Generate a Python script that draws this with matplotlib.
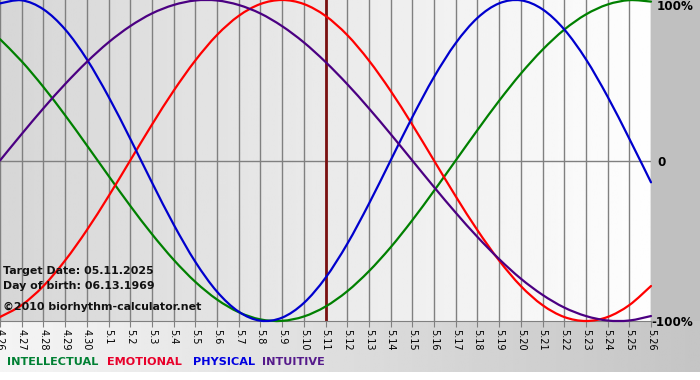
import numpy as np
import matplotlib
matplotlib.use("Agg")
import matplotlib.pyplot as plt
from matplotlib.patches import Rectangle, PathPatch
from matplotlib.path import Path

# day labels, 4.26 .. 5.26
days = ["4.26", "4.27", "4.28", "4.29", "4.30",
        "5.1", "5.2", "5.3", "5.4", "5.5", "5.6", "5.7", "5.8", "5.9", "5.10",
        "5.11", "5.12", "5.13", "5.14", "5.15", "5.16", "5.17", "5.18", "5.19",
        "5.20", "5.21", "5.22", "5.23", "5.24", "5.25", "5.26"]

# cycle values (fraction of 100%) read per day
physical = [0.979, 0.998, 0.942, 0.817, 0.631, 0.398, 0.136, -0.136, -0.398, -0.631,
            -0.817, -0.942, -0.998, -0.979, -0.888, -0.731, -0.520, -0.270, 0.000, 0.270,
            0.520, 0.731, 0.888, 0.979, 0.998, 0.942, 0.817, 0.631, 0.398, 0.136, -0.136]
emotional = [-0.975, -0.901, -0.782, -0.623, -0.434, -0.223, 0.000, 0.223, 0.434, 0.623,
             0.782, 0.901, 0.975, 1.000, 0.975, 0.901, 0.782, 0.623, 0.434, 0.223,
             0.000, -0.223, -0.434, -0.623, -0.782, -0.901, -0.975, -1.000, -0.975, -0.901, -0.782]
intellectual = [0.756, 0.618, 0.458, 0.282, 0.095, -0.095, -0.282, -0.458, -0.618, -0.756,
                -0.866, -0.945, -0.990, -0.999, -0.972, -0.910, -0.815, -0.690, -0.541, -0.372,
                -0.189, 0.000, 0.189, 0.372, 0.541, 0.690, 0.815, 0.910, 0.972, 0.999, 0.990]
intuitive = [0.000, 0.165, 0.325, 0.476, 0.614, 0.736, 0.837, 0.916, 0.969, 0.997,
             0.997, 0.969, 0.916, 0.837, 0.736, 0.614, 0.476, 0.325, 0.165, 0.000,
             -0.165, -0.325, -0.476, -0.614, -0.736, -0.837, -0.916, -0.969, -0.997, -0.997, -0.969]
target_day = "5.11"


def smooth_line(ax, xs, ys, color):
    # curved (bezier) line through the daily points
    p = np.column_stack([xs, ys]).astype(float)
    n = len(p)
    verts = [p[0]]
    codes = [Path.MOVETO]
    for i in range(n - 1):
        a = p[i - 1] if i > 0 else p[i]
        b = p[i + 2] if i + 2 < n else p[i + 1]
        c1 = p[i] + (p[i + 1] - a) / 6.0
        c2 = p[i + 1] - (b - p[i]) / 6.0
        verts += [c1, c2, p[i + 1]]
        codes += [Path.CURVE4] * 3
    patch = PathPatch(Path(verts, codes), fill=False, edgecolor=color, lw=1.6,
                      zorder=3, clip_on=False, capstyle="round", joinstyle="round")
    ax.add_patch(patch)


W, H = 700, 380
fig = plt.figure(figsize=(7, 3.8), dpi=100, facecolor="white")

# background (pixel coordinates)
bg = fig.add_axes([0, 0, 1, 1], zorder=0)
bg.set_xlim(0, W)
bg.set_ylim(H, 0)
bg.axis("off")
grad = np.linspace(0.96, 0.77, 256)[None, :]
bg.imshow(grad, cmap="gray", vmin=0, vmax=1, extent=(0, W, 372, 321), aspect="auto")
bg.add_patch(Rectangle((651, 0), 49, 321, color="#c0c0c0", lw=0))

# plot area
ax = fig.add_axes([0, 1 - 321 / H, 651 / W, 321 / H], zorder=1)
ax.patch.set_alpha(0)
x = np.arange(len(days))
ax.imshow(np.linspace(0.84, 0.995, 256)[None, :], cmap="gray", vmin=0, vmax=1,
          extent=(0, len(days) - 1, -1, 1), aspect="auto", zorder=0)
ax.set_xlim(0, len(days) - 1)
ax.set_ylim(-1, 1)
ax.set_xticks(x)
ax.set_xticklabels(days, rotation=-90, fontsize=7)
ax.set_yticks([])
ax.grid(axis="x", color="#808080", lw=1, zorder=1)
ax.axhline(0, color="#808080", lw=1, zorder=1)
for s in ["top", "left", "right"]:
    ax.spines[s].set_visible(False)
ax.spines["bottom"].set_color("#808080")
ax.tick_params(axis="x", length=4, color="#808080", pad=2)

ax.axvline(days.index(target_day), color="#7a1010", lw=2, zorder=2)

smooth_line(ax, x, intellectual, "#008000")
smooth_line(ax, x, emotional, "#ff0000")
smooth_line(ax, x, physical, "#0000cd")
smooth_line(ax, x, intuitive, "#4b0082")

# right axis labels
fig.text(657 / W, 1 - 7 / H, "100%", ha="left", va="center", fontsize=8.6, weight="bold")
fig.text(657 / W, 1 - 162 / H, "0", ha="left", va="center", fontsize=8.6, weight="bold")
fig.text(651 / W, 1 - 322 / H, "-100%", ha="left", va="center", fontsize=8.6, weight="bold")

# info texts
info_kw = dict(ha="left", va="center", fontsize=7.9, weight="bold", color="#111111")
fig.text(3 / W, 1 - 271 / H, "Target Date: 05.11.2025", **info_kw)
fig.text(3 / W, 1 - 286 / H, "Day of birth: 06.13.1969", **info_kw)
fig.text(3 / W, 1 - 307 / H, "\u00a92010 biorhythm-calculator.net", **info_kw)

# legend words
legend = [("INTELLECTUAL", "#008033", 7), ("EMOTIONAL", "#e8002a", 107),
          ("PHYSICAL", "#0000e0", 193), ("INTUITIVE", "#551a8b", 262)]
for word, col, px in legend:
    fig.text(px / W, 1 - 362 / H, word, ha="left", va="center", fontsize=8.1,
             weight="bold", color=col)

fig.savefig("out.png", dpi=100, facecolor="white")
